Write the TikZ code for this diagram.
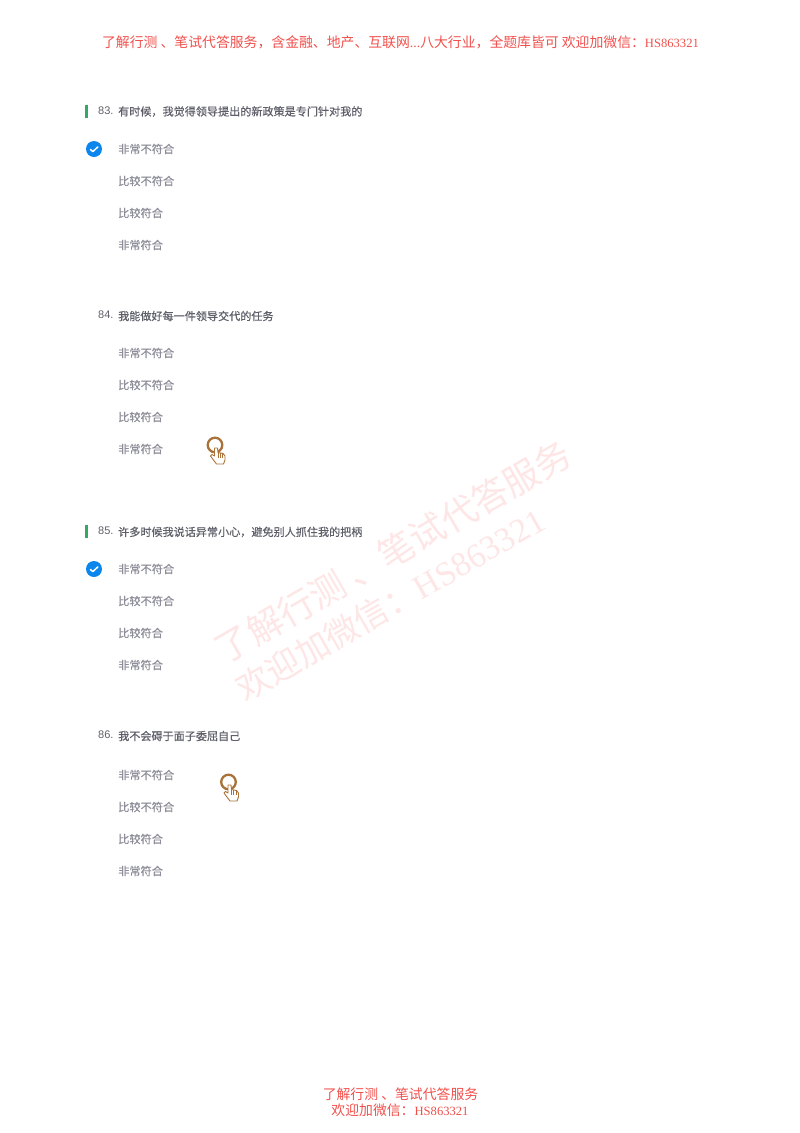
\documentclass[tikz,border=0pt]{standalone}
\usepackage{fontspec}
\setmainfont{Liberation Serif}
\setsansfont{Liberation Sans}
\newfontfamily\cjk{Noto Sans CJK SC}
\newfontfamily\cjkheavy[FakeBold=0.5]{Noto Sans CJK SC}
\definecolor{headred}{HTML}{F0504C}
\definecolor{markred}{HTML}{FEE6E6}
\definecolor{qtext}{HTML}{5F5F6A}
\definecolor{opttext}{HTML}{8E8E9A}
\definecolor{bargreen}{HTML}{35A865}
\definecolor{tickblue}{HTML}{0A86EC}
\definecolor{handbrown}{HTML}{A87238}
\newcommand{\hsfont}{\fontsize{12.6}{16}\selectfont}
\tikzset{
  headtext/.style={inner sep=0pt,text=headred,font=\fontsize{13.85}{16}\selectfont},
  marktext/.style={inner sep=0pt,text=markred,rotate=30,font=\fontsize{36}{40}\selectfont},
  qtitle/.style={inner sep=0pt,anchor=west,text=qtext,font=\fontsize{11.1}{13}\cjkheavy},
  qnum/.style={inner sep=0pt,anchor=west,text=qtext,font=\fontsize{11}{13}\sffamily},
  optitem/.style={inner sep=0pt,anchor=west,text=opttext,font=\fontsize{11.2}{13}\cjkheavy},
  qbar/.style={fill=bargreen,draw=none},
}
% four answers, first row given
\newcommand{\optrows}[2]{
  \node[optitem] (opt#1a) at (118,#2) {非常不符合};
  \node[optitem] (opt#1b) at (118,#2+32) {比较不符合};
  \node[optitem] (opt#1c) at (118,#2+64) {比较符合};
  \node[optitem] (opt#1d) at (118,#2+96) {非常符合};
}
\newcommand{\tickmark}[1]{
  \fill[tickblue] (94,#1) circle (8);
  \draw[white,line width=1.5pt,line cap=round,line join=round] (90.5,#1+.5) -- (92.8,#1+2.6) -- (97.8,#1-2);
}
% ring and pointing hand
\newcommand{\handmark}[2]{
  \draw[handbrown,line width=2.3pt] (#1,#2) circle (7.3);
  \draw[handbrown,line width=0.9pt,line join=round,fill=white]
    (#1+1.5,#2+19) -- (#1-4.5,#2+11) -- (#1-3,#2+9.5) -- (#1-.5,#2+11) -- (#1-.5,#2+3)
    -- (#1+2.5,#2+3) -- (#1+3,#2+7.5) -- (#1+8,#2+8.5) -- (#1+10,#2+11) -- (#1+10,#2+15)
    -- (#1+8.5,#2+19) -- cycle;
  \draw[handbrown,line width=0.6pt] (#1+3.2,#2+8) -- (#1+3.2,#2+12.5) (#1+5.2,#2+8) -- (#1+5.2,#2+12.5) (#1+7.4,#2+8.5) -- (#1+7.4,#2+12.5);
}
\begin{document}
\begin{tikzpicture}[x=1pt,y=-1pt]
\useasboundingbox (0,0) rectangle (800,1133);
% header and footer
\node[headtext] (head) at (400.5,42) {{\cjk 了解行测 、笔试代答服务，含金融、地产、互联网}...{\cjk 八大行业，全题库皆可 欢迎加微信：}{\hsfont HS863321}};
\node[headtext] (foot1) at (400.5,1094) {\cjk 了解行测 、笔试代答服务};
\node[headtext] (foot2) at (400,1110) {{\cjk 欢迎加微信：}{\hsfont HS863321}};
% watermark
\node[marktext] (mark1) at (393,552) {\cjk 了解行测 、笔试代答服务};
\node[marktext,font=\fontsize{34}{40}\selectfont] (mark2) at (390,604) {{\cjk 欢迎加微信：}HS863321};
% question 83
\fill[qbar] (84.5,105) rectangle (88,118);
\node[qnum] (num83) at (98,110.5) {83.};
\node[qtitle] (q83) at (118,111.5) {有时候，我觉得领导提出的新政策是专门针对我的};
\optrows{83}{149}
\tickmark{149}
% question 84
\node[qnum] (num84) at (98,314.5) {84.};
\node[qtitle] (q84) at (118,316) {我能做好每一件领导交代的任务};
\optrows{84}{353}
\handmark{215}{445}
% question 85
\fill[qbar] (84.5,525) rectangle (88,538);
\node[qnum] (num85) at (98,531) {85.};
\node[qtitle] (q85) at (118,532) {许多时候我说话异常小心，避免别人抓住我的把柄};
\optrows{85}{569}
\tickmark{569}
% question 86
\node[qnum] (num86) at (98,735) {86.};
\node[qtitle] (q86) at (118,736) {我不会碍于面子委屈自己};
\optrows{86}{775}
\handmark{228.5}{782}
\end{tikzpicture}
\end{document}
